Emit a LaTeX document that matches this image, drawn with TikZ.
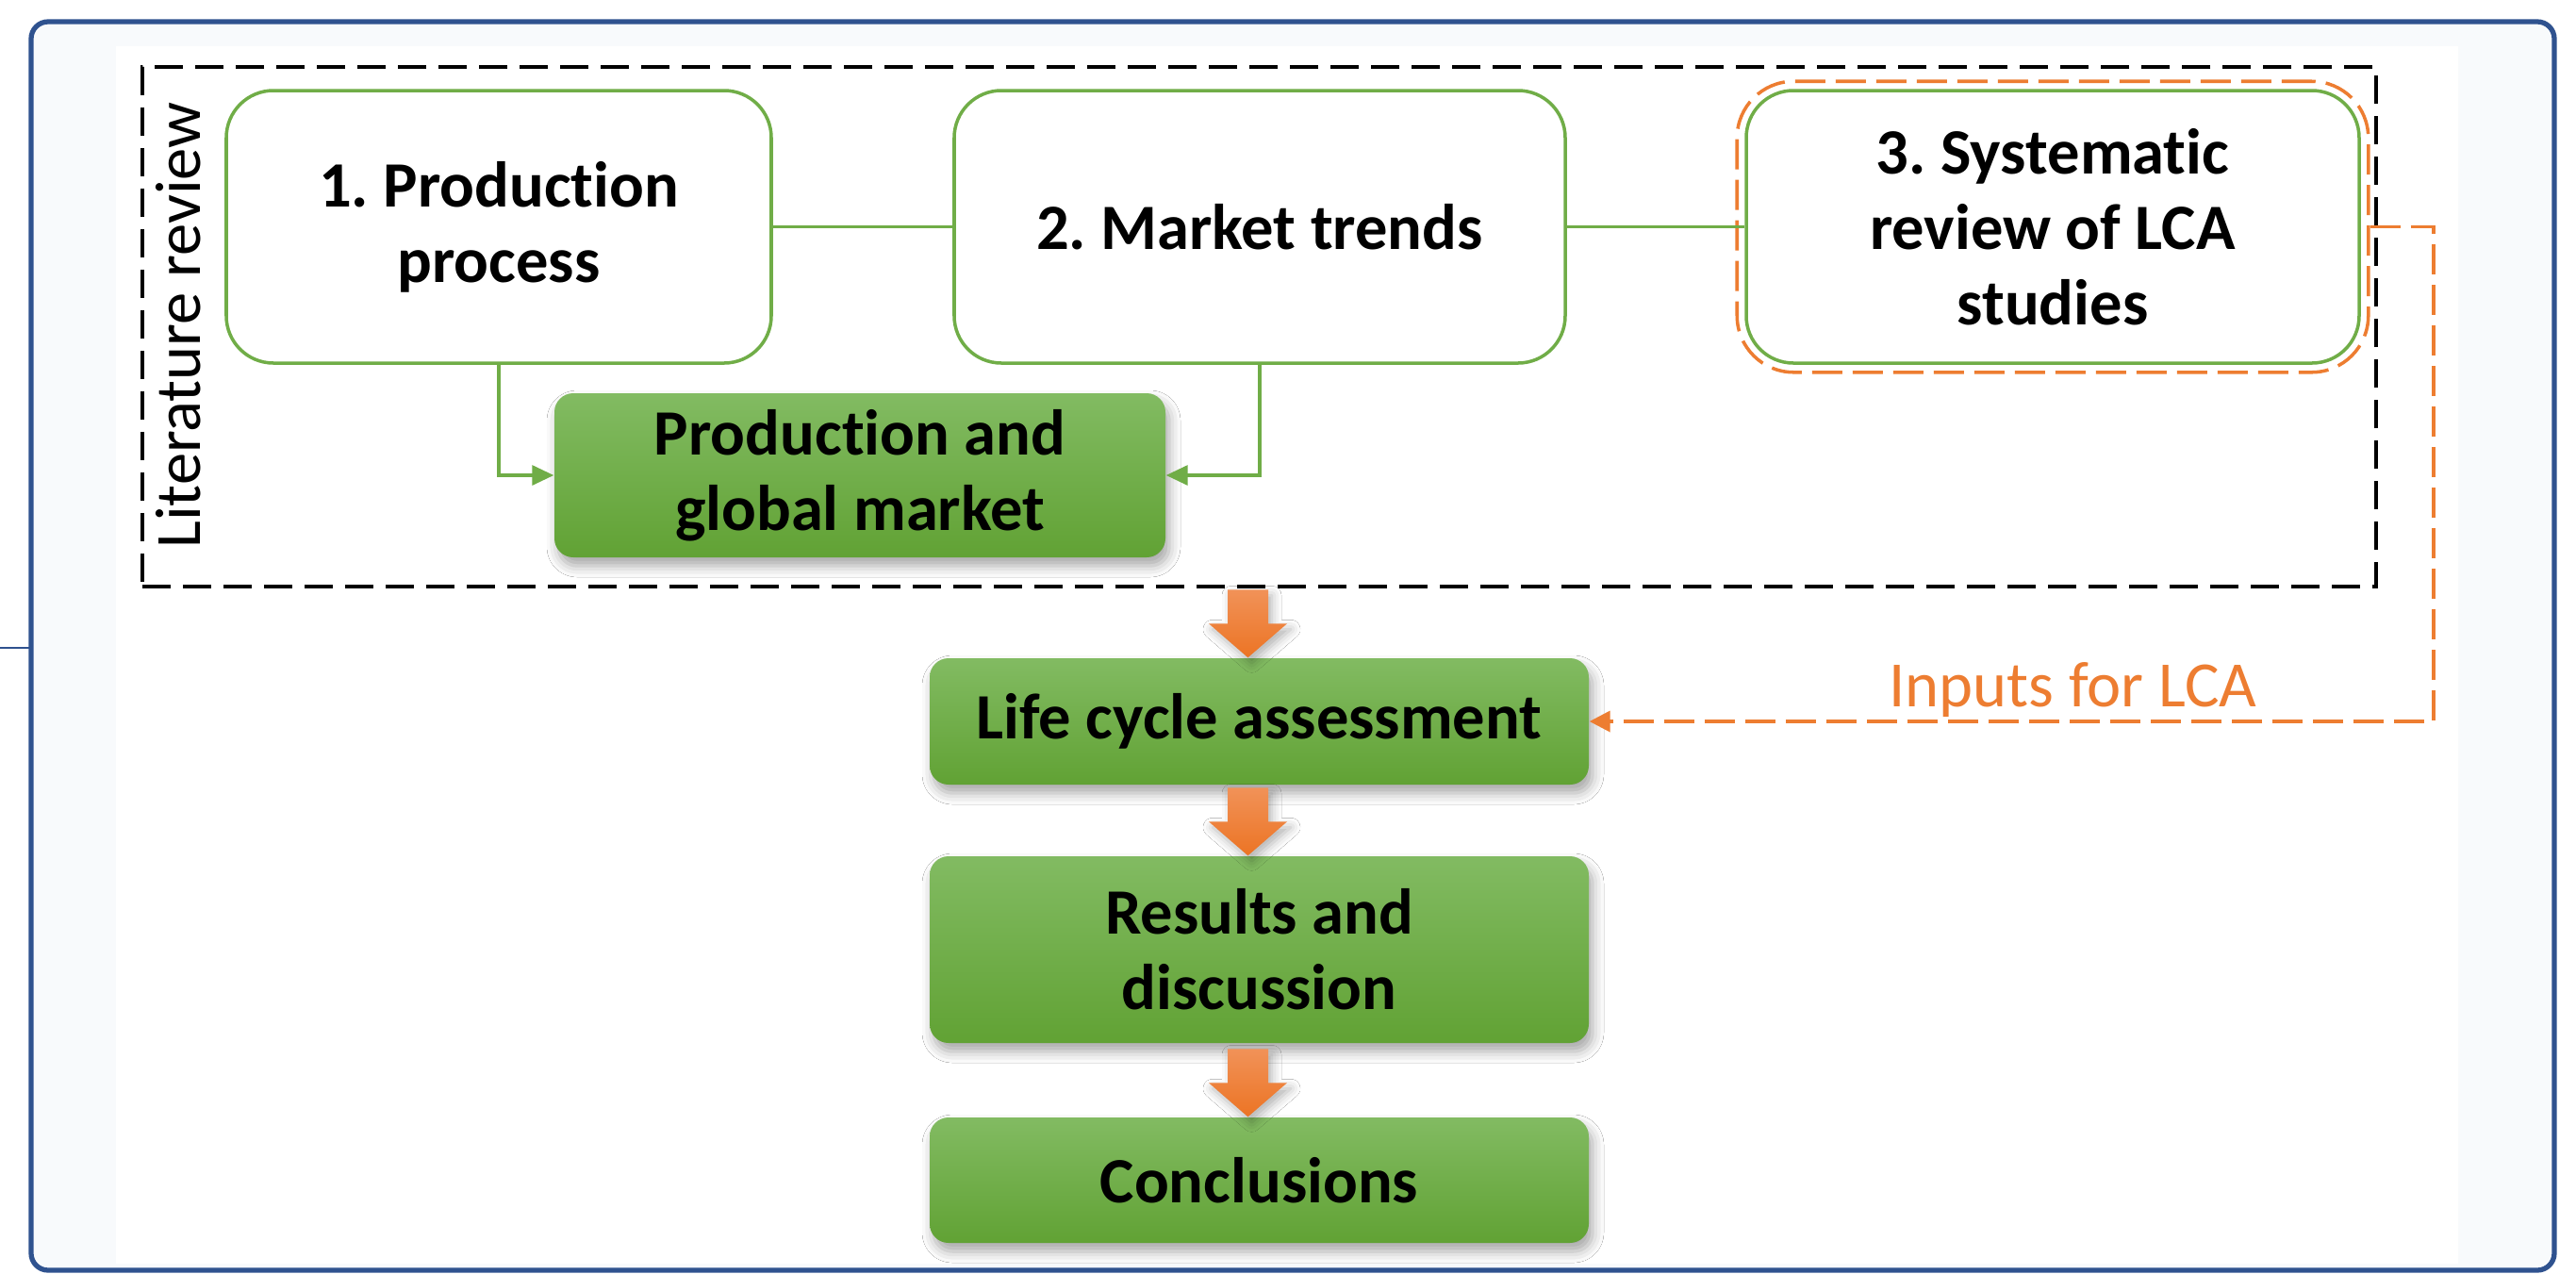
\documentclass[tikz,border=0pt]{standalone}
\usepackage{fontspec}
\setmainfont{Carlito}[Ligatures=NoCommon]
\frenchspacing
\usetikzlibrary{arrows.meta,calc,fit,shadows.blur}

\definecolor{cadre}{RGB}{47,82,143}
\definecolor{fond}{RGB}{248,250,252}
\definecolor{vert}{RGB}{112,173,71}
\definecolor{verthaut}{RGB}{130,187,98}
\definecolor{vertbas}{RGB}{97,162,52}
\definecolor{orangetrait}{RGB}{237,125,49}
\definecolor{orangehaut}{RGB}{241,146,88}
\definecolor{orangebas}{RGB}{236,116,36}

\begin{document}
\begin{tikzpicture}[
  >={Triangle[length=2.3mm,width=2.1mm]},
  txt/.style={font=\fontsize{19.5}{22.8}\selectfont},
  gras/.style={font=\fontsize{19.5}{22.8}\selectfont\bfseries, align=center},
  boite/.style={gras, draw=vert, line width=1pt, fill=white,
    rounded corners=5mm, minimum height=2.89cm},
  bloc/.style={gras, rounded corners=2mm, top color=verthaut, bottom color=vertbas,
    minimum width=6.99cm,
    blur shadow={shadow xshift=0.4mm, shadow yshift=-0.9mm, shadow blur radius=1.2mm,
      shadow opacity=35}},
  lien/.style={vert, line width=0.9pt},
  pointille/.style={dash pattern=on 3mm off 1.3mm, line width=1.1pt},
  fleche/.pic={
    \shade[top color=orangehaut, bottom color=orangebas,
      blur shadow={shadow xshift=0.4mm, shadow yshift=-0.6mm, shadow blur radius=1mm,
        shadow opacity=30}]
      (-0.215,0.72) -- (0.215,0.72) -- (0.215,0.36) -- (0.415,0.36)
      -- (0,0) -- (-0.415,0.36) -- (-0.215,0.36) -- cycle;
  },
]
  % Fond et cadre
  \useasboundingbox (0,0) rectangle (27.32,-13.5);
  \fill[white] (0,0) rectangle (27.32,-13.5);
  \draw[cadre, line width=1.5pt, fill=fond, rounded corners=1.8mm]
    (0.33,-0.23) rectangle (27.09,-13.47);
  \fill[white] (1.23,-0.49) rectangle (26.07,-13.40);
  \draw[cadre, line width=0.6pt] (0,-6.87) -- (0.33,-6.87);

  % Revue de litterature (cadre pointille)
  \node[draw, pointille, minimum width=23.69cm, minimum height=5.51cm, inner sep=0]
    (revue) at (13.355,-3.465) {};
  \node[txt, rotate=90, anchor=base] (titre) at (2.12,-3.45) {Literature review};

  % Les trois volets
  \node[boite, minimum width=5.78cm] (prod) at (5.29,-2.405) {1. Production\\process};
  \node[boite, minimum width=6.48cm] (marche) at (13.36,-2.405) {2. Market trends};
  \node[boite, minimum width=6.50cm] (acv) at (21.77,-2.405)
    {3. Systematic\\review of LCA\\studies};
  \node[fit=(acv), inner sep=0.8mm, draw=orangetrait, rounded corners=6mm,
    dash pattern=on 3.2mm off 1.1mm, line width=1pt] (cadreacv) {};

  % Etapes (blocs verts)
  \node[bloc, minimum width=6.48cm, minimum height=1.74cm] (synthese) at (9.12,-5.04)
    {Production and\\global market};
  \node[bloc, minimum height=1.34cm] (lca) at (13.355,-7.65) {Life cycle assessment};
  \node[bloc, minimum height=1.98cm] (res) at (13.355,-10.07) {Results and\\discussion};
  \node[bloc, minimum height=1.33cm] (concl) at (13.355,-12.515) {Conclusions};

  % Liaisons vertes
  \draw[lien] (prod) -- (marche);
  \draw[lien] (marche) -- (acv);
  \draw[lien,->] (prod.south) |- (synthese.west);
  \draw[lien,->] (marche.south) |- (synthese.east);

  % Grosses fleches orange
  \pic at ($(lca.north)+(-0.12,0)$) {fleche};
  \pic at ($(res.north)+(-0.12,0)$) {fleche};
  \pic at ($(concl.north)+(-0.12,0)$) {fleche};

  % Donnees d'entree pour l'ACV
  \coordinate (coude) at (25.81,-7.65);
  \draw[orangetrait, dash pattern=on 3.2mm off 1.1mm, line width=1pt,
    ->, >={Triangle[length=2.2mm,width=2.2mm]}]
    (cadreacv.east) -| (coude) -- (lca.east);
  \node[txt, orangetrait, anchor=base] (entrees) at (21.985,-7.49) {Inputs for LCA};
\end{tikzpicture}
\end{document}
